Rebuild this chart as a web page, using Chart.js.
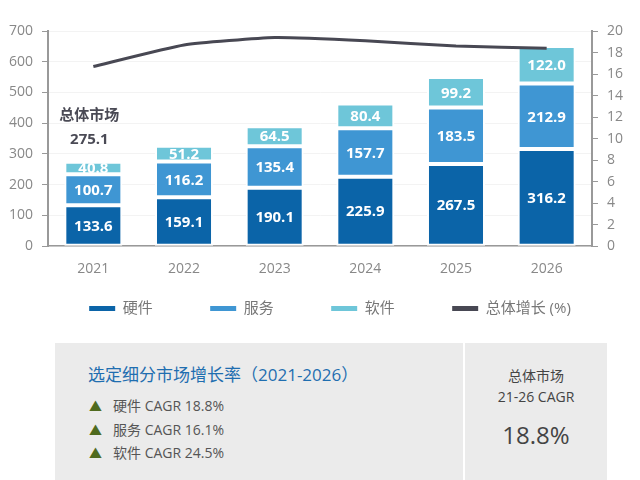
<!DOCTYPE html>
<html>
<head>
<meta charset="utf-8">
<script src="https://cdn.jsdelivr.net/npm/chart.js@4.4.0/dist/chart.umd.min.js"></script>
<style>
  html, body { margin:0; padding:0; background:#fff; width:640px; height:480px; overflow:hidden;
    font-family:"Open Sans","Noto Sans CJK SC",sans-serif; }
  #wrap { position:absolute; left:0; top:0; width:640px; height:350px; }
  #panel { position:absolute; left:55px; top:343px; width:552px; height:137px; background:#ebebeb; }
  #divider { position:absolute; left:408px; top:0; width:2px; height:137px; background:#fff; }
  #ptitle { position:absolute; left:33px; top:18px; font-size:17px; color:#1f6eb0; white-space:nowrap; }
  .row { position:absolute; left:34px; font-size:14px; color:#555; white-space:nowrap; }
  .tri { color:#4f6b1f; display:inline-block; width:24px; font-size:13px; }
  #right { position:absolute; left:410px; top:0; width:142px; text-align:center; color:#444; }
  #r1 { position:absolute; top:22px; width:142px; font-size:14px; }
  #r2 { position:absolute; top:44px; width:142px; font-size:14px; }
  #r3 { position:absolute; top:75px; width:142px; font-size:24px; }
</style>
</head>
<body>
<div id="wrap"><canvas id="c" width="640" height="350"></canvas></div>
<div id="panel">
  <div id="ptitle"></div>
  <div id="rows"></div>
  <div id="divider"></div>
  <div id="right"><div id="r1"></div><div id="r2"></div><div id="r3"></div></div>
</div>
<script>
const years = ['2021','2022','2023','2024','2025','2026'];
const hardware = [133.6, 159.1, 190.1, 225.9, 267.5, 316.2];
const services = [100.7, 116.2, 135.4, 157.7, 183.5, 212.9];
const software = [40.8, 51.2, 64.5, 80.4, 99.2, 122.0];
const growth = [16.7, 18.7, 19.4, 19.1, 18.6, 18.4];
const seriesNames = ['硬件', '服务', '软件', '总体增长 (%)'];
const leftTicks = [0, 100, 200, 300, 400, 500, 600, 700];
const rightTicks = [0, 2, 4, 6, 8, 10, 12, 14, 16, 18, 20];
const totalLabel = '总体市场';
const panelTitle = '选定细分市场增长率（2021-2026）';
const cagrSegments = ['硬件', '服务', '软件'];
const cagrValues = ['18.8%', '16.1%', '24.5%'];
const overallTitle = ['总体市场', '21-26 CAGR'];
const overallValue = '18.8%';

// panel text
document.getElementById('ptitle').textContent = panelTitle;
const rowsEl = document.getElementById('rows');
cagrSegments.forEach((s, i) => {
  const d = document.createElement('div');
  d.className = 'row';
  d.style.top = (52 + i * 23.5) + 'px';
  d.innerHTML = '<span class="tri">▲</span>' + s + ' CAGR ' + cagrValues[i];
  rowsEl.appendChild(d);
});
document.getElementById('r1').textContent = overallTitle[0];
document.getElementById('r2').textContent = overallTitle[1];
document.getElementById('r3').textContent = overallValue;

const FONT = '"Open Sans","Noto Sans CJK SC",sans-serif';
const GAP = '\u2003\u2003\u2002';

const segLabels = {
  id: 'segLabels',
  afterLayout(chart) {
    if (chart.legend) { chart.legend.left += 14; chart.legend.right += 14; chart.legend.top -= 2; chart.legend.bottom -= 2; }
  },
  afterDatasetsDraw(chart) {
    const ctx = chart.ctx;
    ctx.save();
    ctx.font = 'bold 15px ' + FONT;
    ctx.fillStyle = '#fff';
    ctx.textAlign = 'center';
    ctx.textBaseline = 'middle';
    [0,1,2].forEach(di => {
      const meta = chart.getDatasetMeta(di);
      meta.data.forEach((bar, i) => {
        const v = chart.data.datasets[di].data[i];
        const yc = (bar.y + bar.base) / 2;
        ctx.fillText(v.toFixed(1), bar.x, yc + 1);
      });
    });
    const xs = chart.scales.x, ys = chart.scales.y;
    const total = hardware[0] + services[0] + software[0];
    const x = xs.getPixelForValue(0) - 4;
    const yTop = ys.getPixelForValue(total);
    ctx.fillStyle = '#4a4a55';
    ctx.font = 'bold 15px ' + FONT;
    ctx.fillText(totalLabel, x, yTop - 46);
    ctx.fillText(total.toFixed(1), x, yTop - 22);
    ctx.restore();
  }
};

const barBase = { borderColor: '#ffffff', borderWidth: 2, borderSkipped: false,
  barPercentage: 0.64, categoryPercentage: 1.0, yAxisID: 'y', stack: 's', order: 2 };

new Chart(document.getElementById('c'), {
  data: {
    labels: years,
    datasets: [
      Object.assign({ type: 'bar', label: seriesNames[0], data: hardware, backgroundColor: '#0b64a8' }, barBase),
      Object.assign({ type: 'bar', label: seriesNames[1], data: services, backgroundColor: '#3f96d3' }, barBase),
      Object.assign({ type: 'bar', label: seriesNames[2], data: software, backgroundColor: '#6ec6d9' }, barBase),
      { type: 'line', label: seriesNames[3], data: growth, yAxisID: 'y2', borderColor: '#484853',
        backgroundColor: '#484853', borderWidth: 3, pointRadius: 0, tension: 0.15, order: 1 }
    ]
  },
  options: {
    responsive: false,
    animation: false,
    layout: { padding: { top: 31, left: 0, right: 8, bottom: 22 } },
    plugins: {
      tooltip: { enabled: false },
      legend: {
        position: 'bottom',
        labels: {
          font: { family: FONT, size: 15 }, color: '#777',
          boxWidth: 26, boxHeight: 5, padding: 20,
          generateLabels(chart) {
            const n = chart.data.datasets.length;
            return chart.data.datasets.map((ds, i) => ({
              text: ds.label + (i < n - 1 ? GAP : ''),
              fillStyle: ds.type === 'line' ? '#484853' : ds.backgroundColor,
              strokeStyle: ds.type === 'line' ? '#484853' : ds.backgroundColor, lineWidth: 0,
              hidden: false, datasetIndex: i, fontColor: '#777'
            }));
          }
        }
      }
    },
    scales: {
      x: {
        grid: { display: false },
        border: { display: true, color: '#999', width: 1.5 },
        ticks: { font: { family: FONT, size: 14 }, color: '#888', padding: 6 }
      },
      y: {
        position: 'left', min: 0, max: 700, stacked: true,
        afterBuildTicks(s) { s.ticks = leftTicks.map(v => ({ value: v })); },
        grid: { color: '#f3f3f3', tickColor: '#999', tickLength: 6, lineWidth: 1 },
        border: { display: true, color: '#999', width: 2 },
        ticks: { font: { family: FONT, size: 14 }, color: '#888', padding: 9 }
      },
      y2: {
        position: 'right', min: 0, max: 20,
        afterBuildTicks(s) { s.ticks = rightTicks.map(v => ({ value: v })); },
        grid: { drawOnChartArea: false, tickColor: '#999', tickLength: 6 },
        border: { display: true, color: '#999', width: 2 },
        ticks: { font: { family: FONT, size: 14 }, color: '#888', padding: 9 }
      }
    }
  },
  plugins: [segLabels]
});
</script>
</body>
</html>
